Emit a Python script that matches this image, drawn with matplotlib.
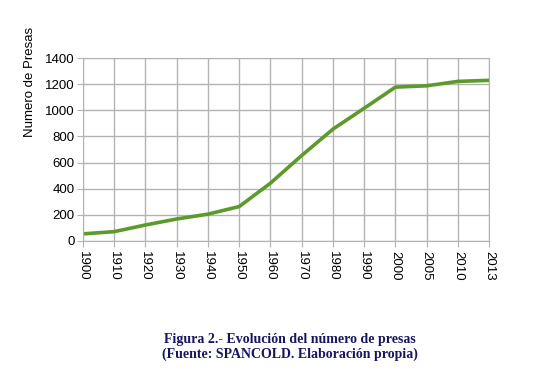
import matplotlib.pyplot as plt
import numpy as np

years = ['1900', '1910', '1920', '1930', '1940', '1950', '1960', '1970',
         '1980', '1990', '2000', '2005', '2010', '2013']
presas = [54, 71, 122, 168, 205, 263, 442, 654, 856, 1016, 1178, 1188, 1222, 1230]
yticks = [0, 200, 400, 600, 800, 1000, 1200, 1400]

plt.rcParams['font.family'] = ['Liberation Sans', 'DejaVu Sans']

fig = plt.figure(figsize=(5.49, 3.80), dpi=100)
ax = fig.add_axes([0.151, 0.366, 0.740, 0.481])

x = np.arange(len(years))
ax.plot(x, presas, color='#5b9a2b', linewidth=2.6, solid_capstyle='butt')

ax.set_xlim(0, len(years) - 1)
ax.set_ylim(0, 1400)
ax.set_xticks(x)
ax.set_xticklabels(years, rotation=270, fontsize=9.5)
ax.set_yticks(yticks)
ax.tick_params(axis='y', labelsize=9.5, length=4, color='#b3b3b3', pad=2)
ax.tick_params(axis='x', length=4, color='#b3b3b3', pad=3)

ax.grid(True, color='#b3b3b3', linewidth=1)
ax.set_axisbelow(True)
for s in ax.spines.values():
    s.set_color('#b3b3b3')

fig.text(30 / 549, 1 - 82 / 380, 'Numero de Presas', rotation=90,
         ha='center', va='center', fontsize=9.5)

# pie de figura
fig.text(290 / 549, 1 - 340 / 380, 'Figura 2.- Evolución del número de presas',
         ha='center', va='center', fontsize=10, fontweight='bold',
         family='Liberation Serif', color='#16165e')
fig.text(290 / 549, 1 - 354 / 380, '(Fuente: SPANCOLD. Elaboración propia)',
         ha='center', va='center', fontsize=10, fontweight='bold',
         family='Liberation Serif', color='#16165e')

fig.savefig('out.png', dpi=100)
